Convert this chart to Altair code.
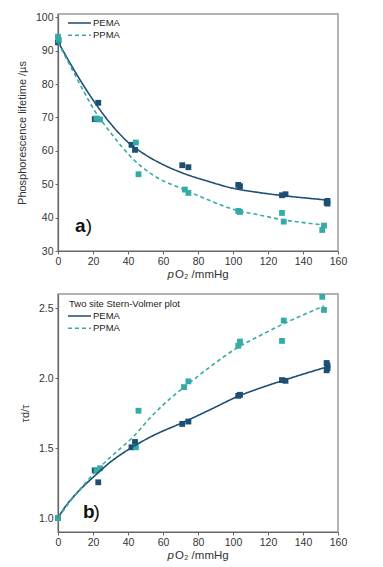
import altair as alt
import pandas as pd

# ---------------- data ----------------
SERIES = ["PEMA", "PPMA"]
COLORS = ["#1d4e74", "#35aba7"]
DASHES = [[1, 0], [4, 3]]

# panel a) lifetime vs pO2 -- measured points
a_pema_x = [0, 21, 23, 42, 44, 71, 74.5, 103, 104, 128, 130, 153.5, 154, 154]
a_pema_y = [92.5, 69.5, 74.4, 61.8, 60.3, 55.7, 55.1, 49.8, 49.4, 46.7, 47.0, 44.5, 44.2, 45.0]
a_ppma_x = [0, 0.5, 22, 24, 44.5, 46, 72.5, 74.5, 103, 104, 128, 129, 151, 152]
a_ppma_y = [94.2, 93.2, 69.7, 69.4, 62.5, 53.0, 48.4, 47.4, 42.0, 41.7, 41.4, 38.8, 36.3, 37.6]

# panel a) fitted curves
a_fit_pema_x = [0, 10, 21, 30, 40, 50, 60, 71, 85, 100, 115, 130, 145, 155]
a_fit_pema_y = [92.7, 83.5, 74.5, 68.2, 62.6, 58.8, 55.9, 53.4, 51.0, 48.8, 47.5, 46.5, 45.7, 45.2]
a_fit_ppma_x = [0, 10, 21, 30, 43, 55, 71.6, 85, 100, 115, 129, 142, 153]
a_fit_ppma_y = [92.5, 82.5, 72.0, 65.5, 57.5, 52.5, 48.5, 45.5, 42.5, 40.8, 39.3, 38.4, 37.7]

# panel b) tau0/tau vs pO2 -- measured points
b_pema_x = [0, 21, 23, 42, 44, 71, 74.5, 103, 104, 128, 130, 153.5, 154, 154, 153.5]
b_pema_y = [1.0, 1.34, 1.255, 1.505, 1.543, 1.672, 1.689, 1.873, 1.88, 1.985, 1.98, 2.107, 2.09, 2.07, 2.055]
b_ppma_x = [0, 22, 24, 44.5, 46, 72, 74.5, 103, 104, 128, 129, 151, 152]
b_ppma_y = [1.0, 1.34, 1.355, 1.505, 1.766, 1.935, 1.976, 2.23, 2.26, 2.265, 2.41, 2.58, 2.486]

# panel b) two-site Stern-Volmer fits
b_fit_pema_x = [0, 3, 8, 14, 20, 30, 41, 53, 72, 88, 103, 116, 129, 142, 154]
b_fit_pema_y = [1.0, 1.06, 1.14, 1.22, 1.29, 1.40, 1.495, 1.58, 1.686, 1.78, 1.87, 1.93, 1.984, 2.035, 2.08]
b_fit_ppma_x = [0, 7, 14.5, 24, 35, 43, 53, 62, 73.5, 88, 103, 115, 129, 140, 152]
b_fit_ppma_y = [1.0, 1.12, 1.233, 1.364, 1.49, 1.58, 1.72, 1.83, 1.948, 2.09, 2.22, 2.30, 2.388, 2.45, 2.515]

X_TICKS = [0, 20, 40, 60, 80, 100, 120, 140, 160]
A_Y_TICKS = [30, 40, 50, 60, 70, 80, 90, 100]
B_Y_TICKS = [1.0, 1.5, 2.0, 2.5]

FONT = "Liberation Sans"
W = 280
H_A = 237
H_B = 238


def frame(xs, ys, series):
    return pd.DataFrame({"x": xs, "y": ys, "series": series})


def legend_layers(title, first_y):
    layers = []
    y = first_y
    if title:
        layers.append(alt.Chart(pd.DataFrame({"t": [title]})).mark_text(
            font=FONT, fontSize=9.5, align="left", baseline="middle", color="#222"
        ).encode(x=alt.value(11), y=alt.value(y - 12), text="t:N"))
    for i, (name, col, dash) in enumerate(zip(SERIES, COLORS, DASHES)):
        yy = y + i * 12.3
        layers.append(alt.Chart(pd.DataFrame({"t": [name]})).mark_rule(
            color=col, strokeWidth=1.6, strokeDash=dash
        ).encode(x=alt.value(10), x2=alt.value(33), y=alt.value(yy)))
        layers.append(alt.Chart(pd.DataFrame({"t": [name]})).mark_text(
            font=FONT, fontSize=9.5, align="left", baseline="middle", color="#222"
        ).encode(x=alt.value(35), y=alt.value(yy), text="t:N"))
    return layers


def axis(values, fmt, title):
    return alt.Axis(values=values, format=fmt, title=title, labelOverlap=False,
                    labelFlush=False, tickCount=len(values))


def panel(pts, fits, ydomain, yticks, yfmt, ytitle, h, legend_title, legend_y, label, label_xy):
    cscale = alt.Scale(domain=SERIES, range=COLORS)
    xenc = alt.X("x:Q", scale=alt.Scale(domain=[0, 160], nice=False),
                 axis=axis(X_TICKS, "d", None))
    yenc = alt.Y("y:Q", scale=alt.Scale(domain=ydomain, nice=False, zero=False),
                 axis=axis(yticks, yfmt, ytitle))

    lines = alt.Chart(fits).mark_line(strokeWidth=1.6, interpolate="monotone").encode(
        x=xenc, y=yenc,
        color=alt.Color("series:N", scale=cscale, legend=None),
        strokeDash=alt.StrokeDash("series:N", scale=alt.Scale(domain=SERIES, range=DASHES),
                                  legend=None),
        detail="series:N",
    )
    points = alt.Chart(pts).mark_square(size=34, opacity=1).encode(
        x=xenc, y=yenc, color=alt.Color("series:N", scale=cscale, legend=None))

    lab = pd.DataFrame({"x": [label_xy[0]], "y": [label_xy[1]], "t": [label]})
    lab_main = alt.Chart(lab).mark_text(font=FONT, fontSize=19, fontWeight="bold",
                                        align="left", baseline="alphabetic",
                                        color="#111").encode(x="x:Q", y="y:Q", text="t:N")
    lab_par = pd.DataFrame({"x": [label_xy[2]], "y": [label_xy[1]], "t": [")"]})
    lab_paren = alt.Chart(lab_par).mark_text(font=FONT, fontSize=19, align="left",
                                             baseline="alphabetic",
                                             color="#111").encode(x="x:Q", y="y:Q", text="t:N")

    xt1 = alt.Chart(pd.DataFrame({"t": ["p"]})).mark_text(
        font=FONT, fontSize=11.5, fontStyle="italic", align="right", baseline="middle",
        color="#333").encode(x=alt.value(116), y=alt.value(h + 24), text="t:N")
    xt2 = alt.Chart(pd.DataFrame({"t": ["O₂ /mmHg"]})).mark_text(
        font=FONT, fontSize=11.5, align="left", baseline="middle",
        color="#333").encode(x=alt.value(117), y=alt.value(h + 24), text="t:N")

    layers = [points, lines, lab_main, lab_paren, xt1, xt2] + legend_layers(legend_title, legend_y)
    return alt.layer(*layers).properties(width=W, height=h)


pts_a = pd.concat([frame(a_pema_x, a_pema_y, "PEMA"), frame(a_ppma_x, a_ppma_y, "PPMA")])
fit_a = pd.concat([frame(a_fit_pema_x, a_fit_pema_y, "PEMA"), frame(a_fit_ppma_x, a_fit_ppma_y, "PPMA")])
pts_b = pd.concat([frame(b_pema_x, b_pema_y, "PEMA"), frame(b_ppma_x, b_ppma_y, "PPMA")])
fit_b = pd.concat([frame(b_fit_pema_x, b_fit_pema_y, "PEMA"), frame(b_fit_ppma_x, b_fit_ppma_y, "PPMA")])

top = panel(pts_a, fit_a, [30, 101], A_Y_TICKS, "d", "Phosphorescence lifetime /µs", H_A,
            None, 9, "a", (9.7, 35.6, 15.8))
bottom = panel(pts_b, fit_b, [0.9, 2.6], B_Y_TICKS, ".1f", "τd/τ", H_B,
               "Two site Stern-Volmer plot", 22, "b", (14.3, 1.0, 20.3))

chart = alt.vconcat(top, bottom, spacing=11).properties(
    padding={"left": 7, "top": 3, "right": 5, "bottom": 5}
).configure_view(
    stroke="#9a9a9a", strokeWidth=1.5
).configure_axis(
    grid=False, labelFont=FONT, labelFontSize=10.5, labelColor="#333",
    titleFont=FONT, titleFontSize=11, titleFontWeight="normal", titleColor="#333",
    domainColor="#666", domainWidth=1.2, tickColor="#666", tickSize=3, labelPadding=2,
    titlePadding=8
)

chart.save("out.html", embed_options={"renderer": "svg", "actions": False})
